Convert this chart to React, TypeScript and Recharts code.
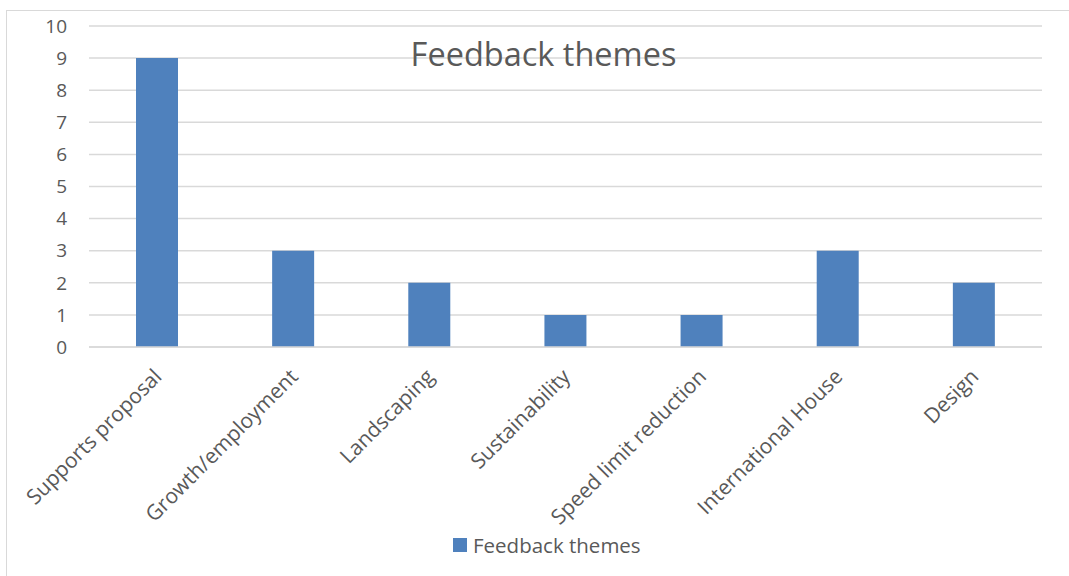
import React from "react";
import { BarChart, Bar, XAxis, YAxis, CartesianGrid } from "recharts";

const themes = [
  "Supports proposal",
  "Growth/employment",
  "Landscaping",
  "Sustainability",
  "Speed limit reduction",
  "International House",
  "Design",
];
const counts = [9, 3, 2, 1, 1, 3, 2];
const yTicks = [0, 1, 2, 3, 4, 5, 6, 7, 8, 9, 10];

const seriesName = "Feedback themes";
const barColor = "#4F81BD";
const textColor = "#595959";
const font = "'Open Sans', sans-serif";

const data = themes.map((t, i) => ({ theme: t, value: counts[i] }));

// rotated category label, its end sits just below-right of the tick
function AngledTick(props: any) {
  const { x, y, payload } = props;
  const px = x + 6;
  const py = y + 31;
  return (
    <text
      x={px}
      y={py}
      textAnchor="end"
      fill={textColor}
      fontSize={21}
      fontFamily={font}
      transform={`rotate(-45, ${px}, ${py})`}
    >
      {payload.value}
    </text>
  );
}

export default function App() {
  return (
    <div style={{ position: "absolute", left: 0, top: 0, width: 1069, height: 576, background: "#fff", overflow: "hidden" }}>
      {/* chart frame */}
      <div
        style={{
          position: "absolute",
          left: 6,
          top: 10,
          width: 1080,
          height: 600,
          border: "1px solid #D9D9D9",
          boxSizing: "border-box",
        }}
      />
      <BarChart
        width={1069}
        height={576}
        data={data}
        margin={{ top: 26, right: 27, left: 29, bottom: 49 }}
        style={{ position: "absolute", left: 0, top: 0 }}
      >
        <CartesianGrid vertical={false} stroke="#D9D9D9" strokeWidth={1.5} />
        <YAxis
          width={60}
          domain={[0, 10]}
          ticks={yTicks}
          interval={0}
          axisLine={false}
          tickLine={false}
          tickSize={0}
          tickMargin={22}
          tick={{ fill: textColor, fontSize: 19, fontFamily: font }}
        />
        <XAxis
          dataKey="theme"
          height={180}
          interval={0}
          axisLine={{ stroke: "#D9D9D9", strokeWidth: 1.5 }}
          tickLine={false}
          tickSize={0}
          tickMargin={0}
          tick={<AngledTick />}
        />
        <Bar dataKey="value" name={seriesName} fill={barColor} barSize={42} isAnimationActive={false} />
      </BarChart>
      <div
        style={{
          position: "absolute",
          left: 0,
          width: 1069,
          top: 34,
          textAlign: "center",
          fontFamily: font,
          fontSize: 32.5,
          color: textColor,
          pointerEvents: "none",
          lineHeight: "40px",
          paddingLeft: 18,
          boxSizing: "border-box",
        }}
      >
        {seriesName}
      </div>
      <div
        style={{
          position: "absolute",
          left: 453,
          top: 531,
          display: "flex",
          alignItems: "center",
          fontFamily: font,
          fontSize: 20.5,
          color: textColor,
          whiteSpace: "nowrap",
        }}
      >
        <span style={{ display: "inline-block", width: 14, height: 14, background: barColor, marginRight: 6 }} />
        <span style={{ lineHeight: "28px" }}>{seriesName}</span>
      </div>
    </div>
  );
}
